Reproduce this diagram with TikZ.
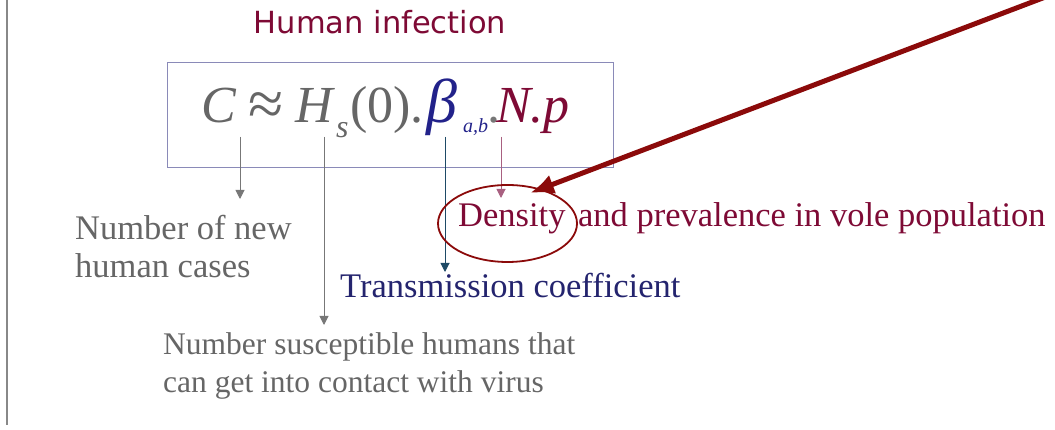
\documentclass[tikz,border=0pt]{standalone}
\usepackage{fontspec}
\setmainfont{Liberation Serif}
\newfontfamily\titlefont{DejaVu Sans}
\usetikzlibrary{arrows.meta,shapes.geometric}
\definecolor{txtgray}{HTML}{666666}
\definecolor{navy}{HTML}{24246E}
\definecolor{betablue}{HTML}{22228A}
\definecolor{maroon}{HTML}{7E0A35}
\definecolor{darkred}{HTML}{8B0A0A}
\definecolor{boxline}{HTML}{8A8AB8}
\definecolor{tealline}{HTML}{1E4A66}
\definecolor{pinkline}{HTML}{A86080}
\definecolor{lgray}{HTML}{888888}
\definecolor{pgray}{HTML}{777777}
\begin{document}
\begin{tikzpicture}[x=1pt,y=-1pt,
  fm/.style={anchor=base west, inner sep=0pt, font=\fontsize{52}{60}\selectfont},
  lbl/.style={anchor=base west, inner sep=0pt, font=\fontsize{34.5}{40}\selectfont},
  small/.style={anchor=base west, inner sep=0pt, font=\fontsize{31.5}{37}\selectfont, text=txtgray},
  pointer/.style={-{Triangle[length=9pt,width=9pt]}, line width=1pt},
]
\useasboundingbox (0,0) rectangle (1055,430);
\draw[lgray, line width=1.5pt] (7,0) -- (7,425);
% title
\node[font=\titlefont\fontsize{30.5}{36}\selectfont, text=maroon, anchor=base, inner sep=0pt] (title) at (380,34) {Human infection};
% box
\node[draw=boxline, line width=1pt, minimum width=446pt, minimum height=105pt, inner sep=0pt] (box) at (390,115.5) {};
% formula
\node[fm, text=txtgray] (fC) at (201,123) {\itshape C};
\node[fm, text=txtgray, font=\fontsize{64}{70}\selectfont] (fapprox) at (248,126) {≈};
\node[fm, text=txtgray] (fH) at (295,123) {\itshape H};
\node[anchor=base west, inner sep=0pt, font=\fontsize{32}{36}\selectfont\itshape, text=txtgray] (fs) at (336,138) {s};
\node[fm, text=txtgray] (fzero) at (350,123) {(0).};
\node[fm, text=betablue, font=\fontsize{62}{70}\selectfont] (fbeta) at (426,123) {\itshape β};
\node[anchor=base west, inner sep=0pt, font=\fontsize{20}{24}\selectfont\itshape, text=betablue] (fab) at (463,133) {a,b};
\node[fm, text=pgray] (fdot) at (487,123) {.};
\node[fm, text=maroon] (fNp) at (496,123) {\itshape N.p};
% pointers
\coordinate (aC0) at (240,137); \coordinate (aC1) at (240,199);
\coordinate (aH0) at (324,137); \coordinate (aH1) at (324,325);
\coordinate (aB0) at (445,137); \coordinate (aB1) at (445,272);
\coordinate (aN0) at (501,137); \coordinate (aN1) at (501,198);
\draw[pointer, draw=pgray, fill=pgray] (aC0) -- (aC1);
\draw[pointer, draw=pgray, fill=pgray] (aH0) -- (aH1);
\draw[pointer, draw=tealline, fill=tealline] (aB0) -- (aB1);
\draw[pointer, draw=pinkline, fill=pinkline] (aN0) -- (aN1);
% ellipse
\node[draw=darkred, line width=1.8pt, ellipse, minimum width=139pt, minimum height=77pt, inner sep=0pt] (ell) at (507.5,223.5) {};
% labels
\node[lbl, text=txtgray] (new1) at (75,240) {Number of new};
\node[lbl, text=txtgray] (new2) at (75,278) {human cases};
\node[lbl, text=maroon] (dens) at (458,227) {Density\hspace{4pt} and prevalence in vole population};
\node[lbl, text=navy] (trans) at (340,298) {Transmission coefficient};
\node[small] (sus1) at (163,355) {Number susceptible humans that};
\node[small] (sus2) at (163,392) {can get into contact with virus};
% big arrow
\coordinate (bigstart) at (1048,-4);
\coordinate (bigtip) at (530,193);
\draw[darkred, line width=5pt, -{Latex[length=24pt,width=20pt]}] (bigstart) -- (bigtip);
\end{tikzpicture}
\end{document}
